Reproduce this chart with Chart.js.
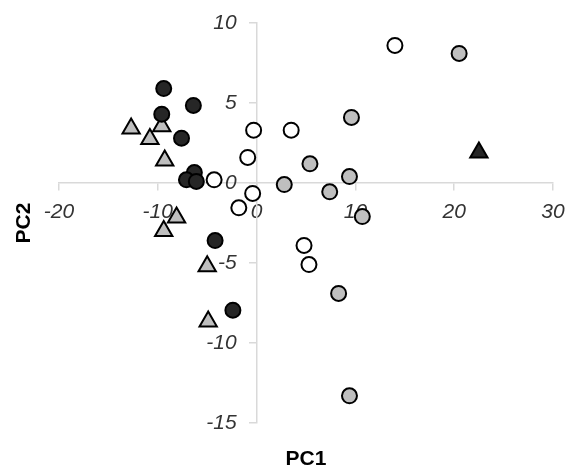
<!DOCTYPE html>
<html>
<head>
<meta charset="utf-8">
<script src="https://cdn.jsdelivr.net/npm/chart.js@4"></script>
<style>
  html, body { margin: 0; padding: 0; background: #fff; }
  #wrap { width: 566px; height: 470px; }
</style>
</head>
<body>
<div id="wrap"><canvas id="chart"></canvas></div>
<script>
// PCA scores (PC1, PC2)
const blackCircles = [
  [-9.4, 5.9], [-6.4, 4.85], [-9.6, 4.3], [-7.6, 2.8],
  [-6.3, 0.65], [-7.1, 0.2], [-6.1, 0.1], [-4.2, -3.6], [-2.4, -7.95]
];
const grayTriangles = [
  [-12.7, 3.4], [-10.8, 2.75], [-9.6, 3.55], [-9.3, 1.4],
  [-8.1, -2.15], [-9.4, -3.0], [-5.0, -5.2], [-4.9, -8.65]
];
const whiteCircles = [
  [-4.3, 0.2], [-0.3, 3.3], [3.5, 3.3], [-0.9, 1.6], [-0.4, -0.65],
  [-1.8, -1.55], [4.8, -3.9], [5.3, -5.1], [14.0, 8.6]
];
const grayCircles = [
  [2.8, -0.1], [20.5, 8.1], [9.6, 4.1], [5.4, 1.2], [7.4, -0.55],
  [9.4, 0.4], [10.7, -2.1], [8.3, -6.9], [9.4, -13.3]
];
const blackTriangles = [
  [22.5, 1.9]
];

const xTicks = [-20, -10, 0, 10, 20, 30];
const yTicks = [-15, -10, -5, 0, 5, 10];

const toPoints = arr => arr.map(p => ({ x: p[0], y: p[1] }));

function series(data, fill, style) {
  return {
    data: toPoints(data),
    pointStyle: style,
    backgroundColor: fill,
    borderColor: '#000',
    borderWidth: 2,
    pointRadius: style === 'triangle' ? 10 : 7.5,
    pointHoverRadius: style === 'triangle' ? 10 : 7.5
  };
}

const tickFont = { family: 'Liberation Sans, Arial, sans-serif', size: 21, style: 'italic' };
const titleFont = { family: 'Liberation Sans, Arial, sans-serif', size: 21, weight: 'bold', lineHeight: 1 };

// a y axis placed at x = 0 ignores ticks.padding, so nudge its labels left
function shiftYLabels(scale) {
  if (scale._shifted) return;
  scale._shifted = true;
  const draw = scale.drawLabels;
  scale.drawLabels = function (area) {
    this.ctx.save();
    this.ctx.translate(-20, 0);
    draw.call(this, area);
    this.ctx.restore();
  };
}

new Chart(document.getElementById('chart'), {
  type: 'scatter',
  data: {
    datasets: [
      series(blackCircles, '#262626', 'circle'),
      series(whiteCircles, '#ffffff', 'circle'),
      series(grayCircles, '#bfbfbf', 'circle'),
      series(grayTriangles, '#bfbfbf', 'triangle'),
      series(blackTriangles, '#262626', 'triangle')
    ]
  },
  options: {
    responsive: true,
    maintainAspectRatio: false,
    animation: false,
    layout: { padding: { top: 23, right: 13, bottom: 0, left: 0 } },
    plugins: {
      legend: { display: false },
      tooltip: { enabled: false },
      title: {
        display: true,
        text: 'PC1',
        position: 'bottom',
        fullSize: false,
        color: '#000',
        font: titleFont,
        padding: { top: 26, bottom: 0 }
      },
      subtitle: {
        display: true,
        text: 'PC2',
        position: 'left',
        fullSize: false,
        color: '#000',
        font: titleFont,
        padding: { top: 14, bottom: 24 }
      }
    },
    scales: {
      x: {
        type: 'linear',
        min: -20,
        max: 30,
        position: { y: 0 },
        afterBuildTicks: s => { s.ticks = xTicks.map(v => ({ value: v })); },
        afterFit: s => { s.paddingLeft = 0; s.paddingRight = 0; },
        grid: { drawOnChartArea: false, color: '#d9d9d9', tickLength: 7, lineWidth: 1.5 },
        border: { color: '#d9d9d9', width: 1.5 },
        ticks: { color: '#333333', font: tickFont, padding: 10, maxRotation: 0 }
      },
      y: {
        type: 'linear',
        min: -15,
        max: 10,
        position: { x: 0 },
        afterBuildTicks: s => { s.ticks = yTicks.map(v => ({ value: v })); },
        afterFit: s => { s.paddingTop = 0; s.paddingBottom = 0; shiftYLabels(s); },
        grid: { drawOnChartArea: false, color: '#d9d9d9', tickLength: 7, lineWidth: 1.5 },
        border: { color: '#d9d9d9', width: 1.5 },
        ticks: { color: '#333333', font: tickFont }
      }
    }
  }
});
</script>
</body>
</html>
